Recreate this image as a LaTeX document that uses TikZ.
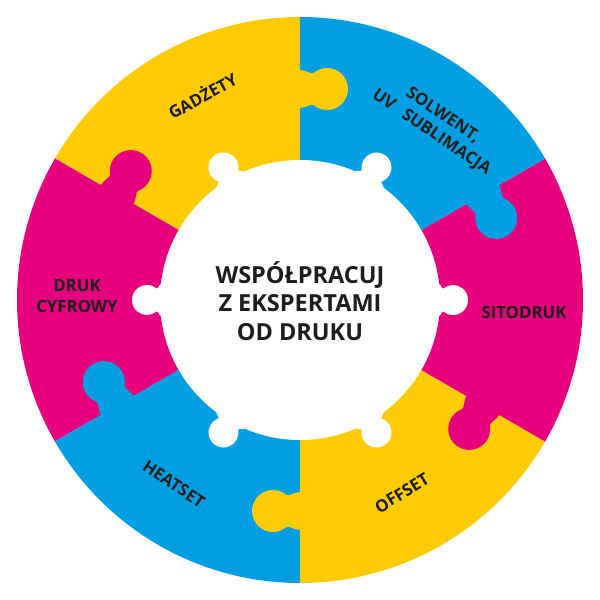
\documentclass[tikz,border=0pt]{standalone}
\usepackage{fontspec}
\setmainfont{Open Sans}
\definecolor{yel}{HTML}{FFCB05}
\definecolor{blu}{HTML}{009FE3}
\definecolor{mag}{HTML}{E6007E}
\definecolor{ink}{HTML}{1D1D1B}
\tikzset{
  lbl/.style={text=ink, font=\bfseries\fontsize{16.8}{20.5}\selectfont, align=center, inner sep=0pt},
  ctr/.style={text=ink, font=\bfseries\fontsize{23.5}{28.5}\selectfont, align=center, inner sep=0pt},
}
\newcommand{\slicepart}[3]{\fill[#1] (0,0) -- (#2:283) arc[start angle=#2, end angle=#3, radius=283] -- cycle;}
\newcommand{\tabpart}[2]{%
  \begin{scope}[shift={(#2:211)}, rotate=#2-90]
    \fill[#1] (-2,-19) -- (0,-19) .. controls (5,-19) and (11.6,-14.5) .. (13.5,-16.1)
      arc[start angle=230, end angle=490, radius=21]
      .. controls (11.6,14.5) and (5,19) .. (0,19) -- (-2,19) -- cycle;
  \end{scope}}
\newcommand{\knobpart}[1]{%
  \begin{scope}[shift={(#1:140)}, rotate=#1]
    \fill[white] (-6,-16) -- (-1,-16) .. controls (1,-16) and (1.83,-10.2) .. (3.36,-11.49)
      arc[start angle=230, end angle=490, radius=15]
      .. controls (1.83,10.2) and (1,16) .. (-1,16) -- (-6,16) -- cycle;
  \end{scope}}
\begin{document}
\begin{tikzpicture}[x=1pt,y=1pt]
\useasboundingbox (-300,-300) rectangle (300,300);
\slicepart{yel}{90}{150}
\slicepart{mag}{150}{210}
\slicepart{blu}{210}{270}
\slicepart{yel}{270}{330}
\slicepart{mag}{-30}{30}
\slicepart{blu}{30}{90}
\tabpart{yel}{90}
\tabpart{blu}{30}
\tabpart{mag}{-30}
\tabpart{yel}{-90}
\tabpart{blu}{-150}
\tabpart{mag}{150}
\fill[white] (0,0) circle[radius=140];
\knobpart{0}
\knobpart{60}
\knobpart{120}
\knobpart{180}
\knobpart{240}
\knobpart{300}
\node[ctr] (center) at (0,-1) {WSPÓŁPRACUJ\\Z EKSPERTAMI\\OD DRUKU};
\node[lbl, rotate=29] (gadzety) at (-98,205) {GADŻETY};
\node[lbl, rotate=-34] (solwent) at (137,176) {SOLWENT,\\UV\hspace{0.45em} SUBLIMACJA};
\node[lbl] (sitodruk) at (224,-12) {SITODRUK};
\node[lbl, rotate=32] (offset) at (102,-193) {OFFSET};
\node[lbl, rotate=-34] (heatset) at (-126,-184) {HEATSET};
\node[lbl] (cyfrowy) at (-223,4) {DRUK\\CYFROWY};
\end{tikzpicture}
\end{document}
